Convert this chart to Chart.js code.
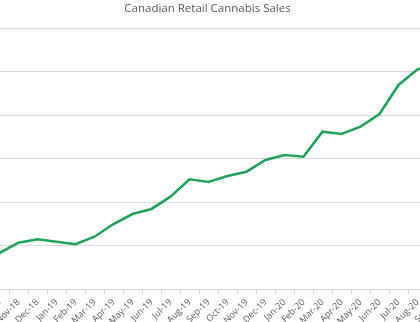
<!DOCTYPE html>
<html>
<head>
    <title>Canadian Retail Cannabis Sales</title>
    <style>
        html, body {
            margin: 0;
            padding: 0;
            background-color: #fff;
        }

        #wrap {
            position: relative;
            width: 420px;
            height: 322px;
            overflow: hidden;
        }

        #salesChart {
            position: absolute;
            left: -60px;
            top: 0;
        }
    </style>
    <script src="https://cdn.jsdelivr.net/npm/chart.js"></script>
</head>
<body>
    <div id="wrap">
        <canvas id="salesChart" width="535" height="360"></canvas>
    </div>

    <script>
        // months shown on the category axis
        var months = ["Oct-18", "Nov-18", "Dec-18", "Jan-19", "Feb-19", "Mar-19", "Apr-19", "May-19",
            "Jun-19", "Jul-19", "Aug-19", "Sep-19", "Oct-19", "Nov-19", "Dec-19", "Jan-20",
            "Feb-20", "Mar-20", "Apr-20", "May-20", "Jun-20", "Jul-20", "Aug-20", "Sep-20"];

        // monthly sales, millions of dollars
        var sales = [41.4, 53.2, 57.1, 54.4, 51.4, 60.1, 74.7, 86.2,
            92.0, 106.1, 126.1, 123.0, 129.9, 134.8, 148.3, 154.0,
            152.1, 180.8, 178.2, 186.6, 201.1, 234.5, 252.5, 259.0];

        var yMin = 0;
        var yMax = 300;
        var yStep = 50;

        var gray = "#595959";
        var gridGray = "#d9d9d9";

        new Chart(document.getElementById("salesChart"), {
            type: "line",
            data: {
                labels: months,
                datasets: [{
                    label: "Sales",
                    data: sales,
                    borderColor: "#22a35b",
                    borderWidth: 2.6,
                    pointRadius: 0,
                    fill: false,
                    tension: 0
                }]
            },
            options: {
                responsive: false,
                animation: false,
                layout: {
                    padding: { left: 0, right: 0, top: 0, bottom: 0 }
                },
                plugins: {
                    legend: { display: false },
                    tooltip: { enabled: false },
                    title: {
                        display: true,
                        text: "Canadian Retail Cannabis Sales",
                        color: gray,
                        font: { family: "Open Sans", size: 11.5, weight: "normal" },
                        padding: { top: 1.5, bottom: 12.7 }
                    }
                },
                scales: {
                    x: {
                        offset: true,
                        afterFit: function(scale) { scale.height = 71; },
                        grid: {
                            offset: true,
                            drawOnChartArea: false,
                            color: gridGray,
                            tickLength: 5
                        },
                        border: { color: gridGray },
                        ticks: {
                            color: gray,
                            font: { family: "Open Sans", size: 9 },
                            minRotation: 45,
                            maxRotation: 45,
                            autoSkip: false,
                            padding: 3
                        }
                    },
                    y: {
                        min: yMin,
                        max: yMax,
                        afterFit: function(scale) { scale.width = 50; },
                        grid: {
                            color: gridGray,
                            drawTicks: false
                        },
                        border: { display: false },
                        ticks: {
                            display: false,
                            stepSize: yStep
                        }
                    },
                    // empty strip on the right, outside the window
                    yRight: {
                        position: "right",
                        afterFit: function(scale) { scale.width = 29; },
                        grid: { display: false },
                        border: { display: false },
                        ticks: { display: false }
                    }
                }
            }
        });
    </script>
</body>
</html>
